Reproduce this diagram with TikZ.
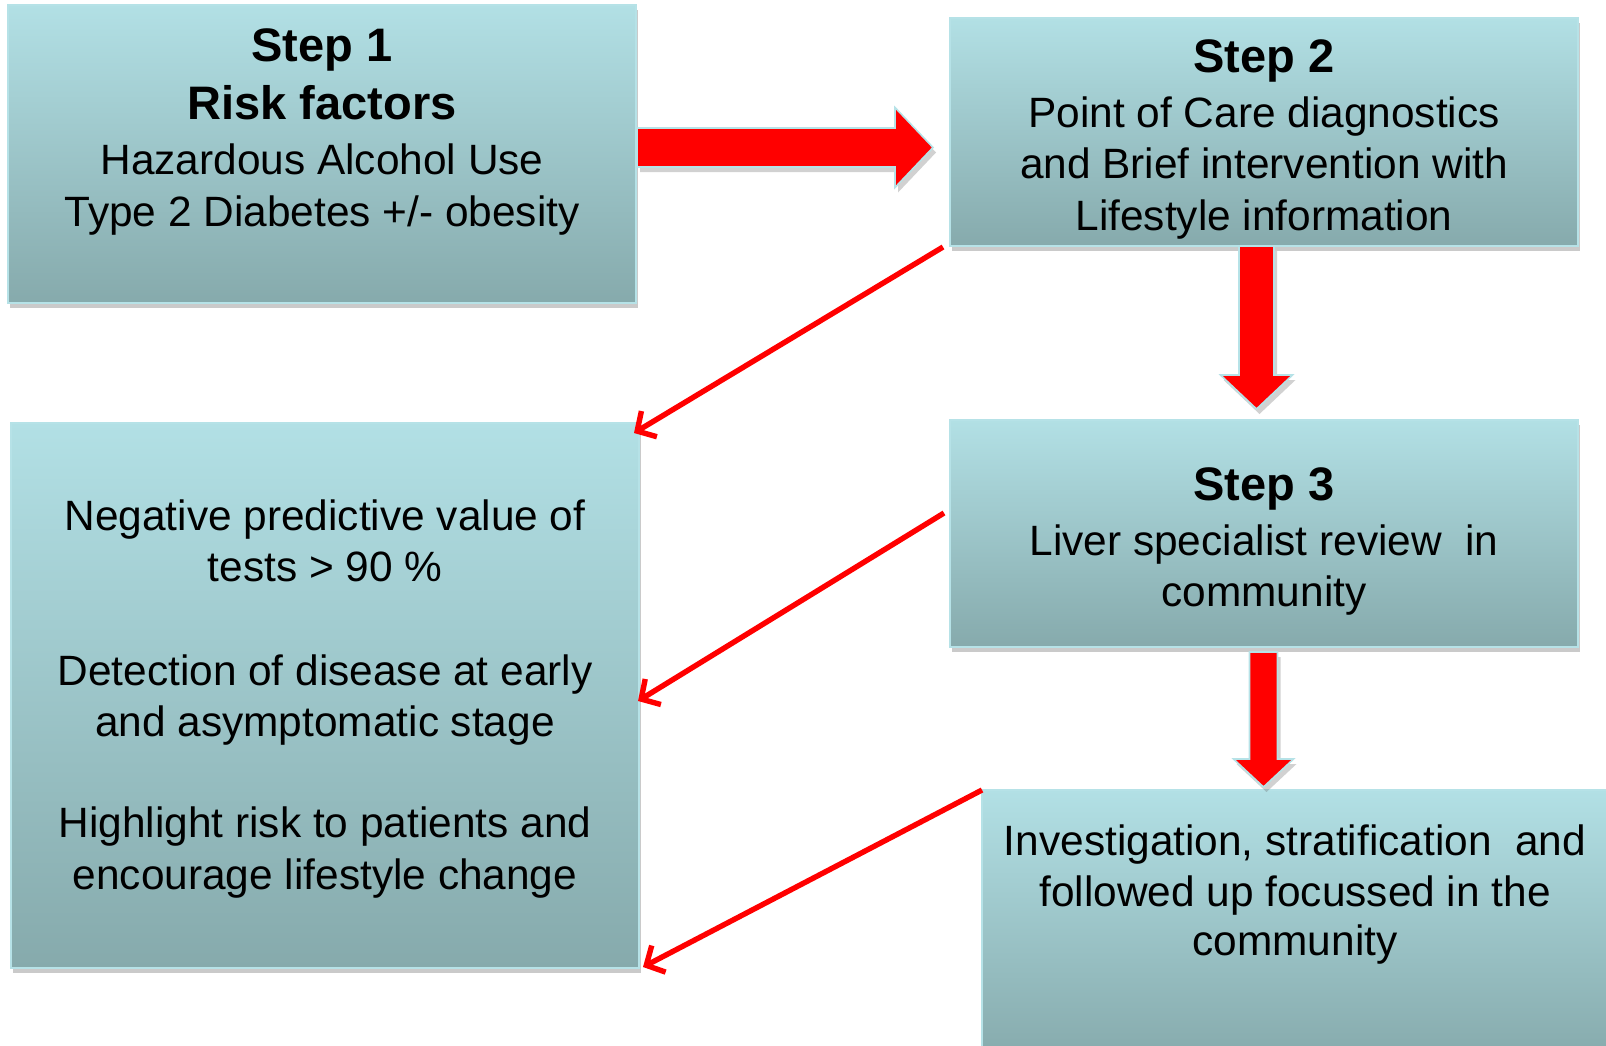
\documentclass[tikz,border=0pt]{standalone}
\usepackage{fontspec}
\setmainfont{Liberation Sans}
\usetikzlibrary{calc,fit,shadows,arrows.meta}

\definecolor{boxtop}{RGB}{178,224,229}
\definecolor{boxbot}{RGB}{134,170,172}
\definecolor{boxedge}{RGB}{182,226,231}
\definecolor{arrowred}{RGB}{255,0,0}

\tikzset{
  stepbox/.style={rectangle, inner sep=0pt, draw=boxedge, line width=1pt,
    top color=boxtop, bottom color=boxbot,
    drop shadow={shadow xshift=1pt, shadow yshift=-2.5pt, opacity=0.35, fill=black!60}},
  line/.style={inner sep=0pt, text height=0.72em, text depth=0pt,
    font=\fontsize{21.2}{25}\selectfont},
  head/.style={line, font=\fontsize{23.5}{28}\selectfont\bfseries},
  blockarrow/.style={fill=arrowred, draw=boxedge, line width=0.8pt, line join=miter,
    drop shadow={shadow xshift=1.5pt, shadow yshift=-2.5pt, opacity=0.3, fill=black!60}},
  thinarrow/.style={draw=arrowred, line width=2.7pt,
    -{Straight Barb[length=7pt,width=15pt,line width=2.7pt]}},
}

% wide arrow: tail, tip, shaft half-width, head half-width, head length
\newcommand\fatarrow[5]{%
  \coordinate (fa-h) at ($(#2)!#5!(#1)$);
  \path[blockarrow] ($(#1)!#3!90:(#2)$) -- ($(fa-h)!#3!-90:(#1)$)
    -- ($(fa-h)!#4!-90:(#1)$) -- (#2) -- ($(fa-h)!#4!90:(#1)$)
    -- ($(fa-h)!#3!90:(#1)$) -- ($(#1)!#3!-90:(#2)$) -- cycle;}

\begin{document}
\begin{tikzpicture}[x=0.5pt, y=-0.5pt]
\useasboundingbox (0,0) rectangle (1606,1045);
\begin{scope}
\clip (0,0) rectangle (1606,1045);

% boxes
\node[stepbox, fit={(8,5) (636,303)}] (b1) {};
\node[stepbox, fit={(950,18) (1578,246)}] (b2) {};
\node[stepbox, fit={(11,423) (639,968)}] (bl) {};
\node[stepbox, fit={(950,420) (1578,647)}] (b3) {};
\node[stepbox, fit={(982,790) (1620,1060)}] (b4) {};

% Step 1
\node[head] (s1a) at (322,54) {Step 1};
\node[head] (s1b) at (322,112) {Risk factors};
\node[line] (s1c) at (322,167) {Hazardous Alcohol Use};
\node[line] (s1d) at (322,219) {Type 2 Diabetes +/- obesity};

% Step 2
\node[head] (s2a) at (1264,65) {Step 2};
\node[line] (s2b) at (1264,120) {Point of Care diagnostics};
\node[line] (s2c) at (1264,171) {and Brief intervention with};
\node[line] (s2d) at (1264,223) {Lifestyle information};

% outcomes
\node[line] (o1) at (325,523) {Negative predictive value of};
\node[line] (o2) at (325,574) {tests > 90 \%};
\node[line] (o3) at (325,678) {Detection of disease at early};
\node[line] (o4) at (325,729) {and asymptomatic stage};
\node[line] (o5) at (325,830) {Highlight risk to patients and};
\node[line] (o6) at (325,882) {encourage lifestyle change};

% Step 3
\node[head] (s3a) at (1264,493) {Step 3};
\node[line] (s3b) at (1264,548) {Liver specialist review\ \ in};
\node[line] (s3c) at (1264,599) {community};

% follow-up
\node[line] (f1) at (1295,848) {Investigation, stratification\ \ and};
\node[line] (f2) at (1295,899) {followed up focussed in the};
\node[line] (f3) at (1295,948) {community};

% wide arrows
\coordinate (a1t) at (b1.east |- 0,147.5);
\coordinate (a1p) at (933,147.5);
\fatarrow{a1t}{a1p}{9.75pt}{20pt}{19pt}
\coordinate (a2t) at (1256.5,246);
\coordinate (a2p) at (1256.5,409);
\fatarrow{a2t}{a2p}{8.75pt}{18pt}{17pt}
\coordinate (a3t) at (1263.5,652);
\coordinate (a3p) at (1263.5,787);
\fatarrow{a3t}{a3p}{7pt}{15pt}{14pt}

% thin arrows back to the outcomes box
\coordinate (c1s) at (943,247);
\coordinate (c1e) at (634,433);
\draw[thinarrow] (c1s) -- (c1e);
\coordinate (c2s) at (944,513);
\coordinate (c2e) at (638,701);
\draw[thinarrow] (c2s) -- (c2e);
\coordinate (c3s) at (982,790);
\coordinate (c3e) at (643,967);
\draw[thinarrow] (c3s) -- (c3e);
\end{scope}
\end{tikzpicture}
\end{document}
